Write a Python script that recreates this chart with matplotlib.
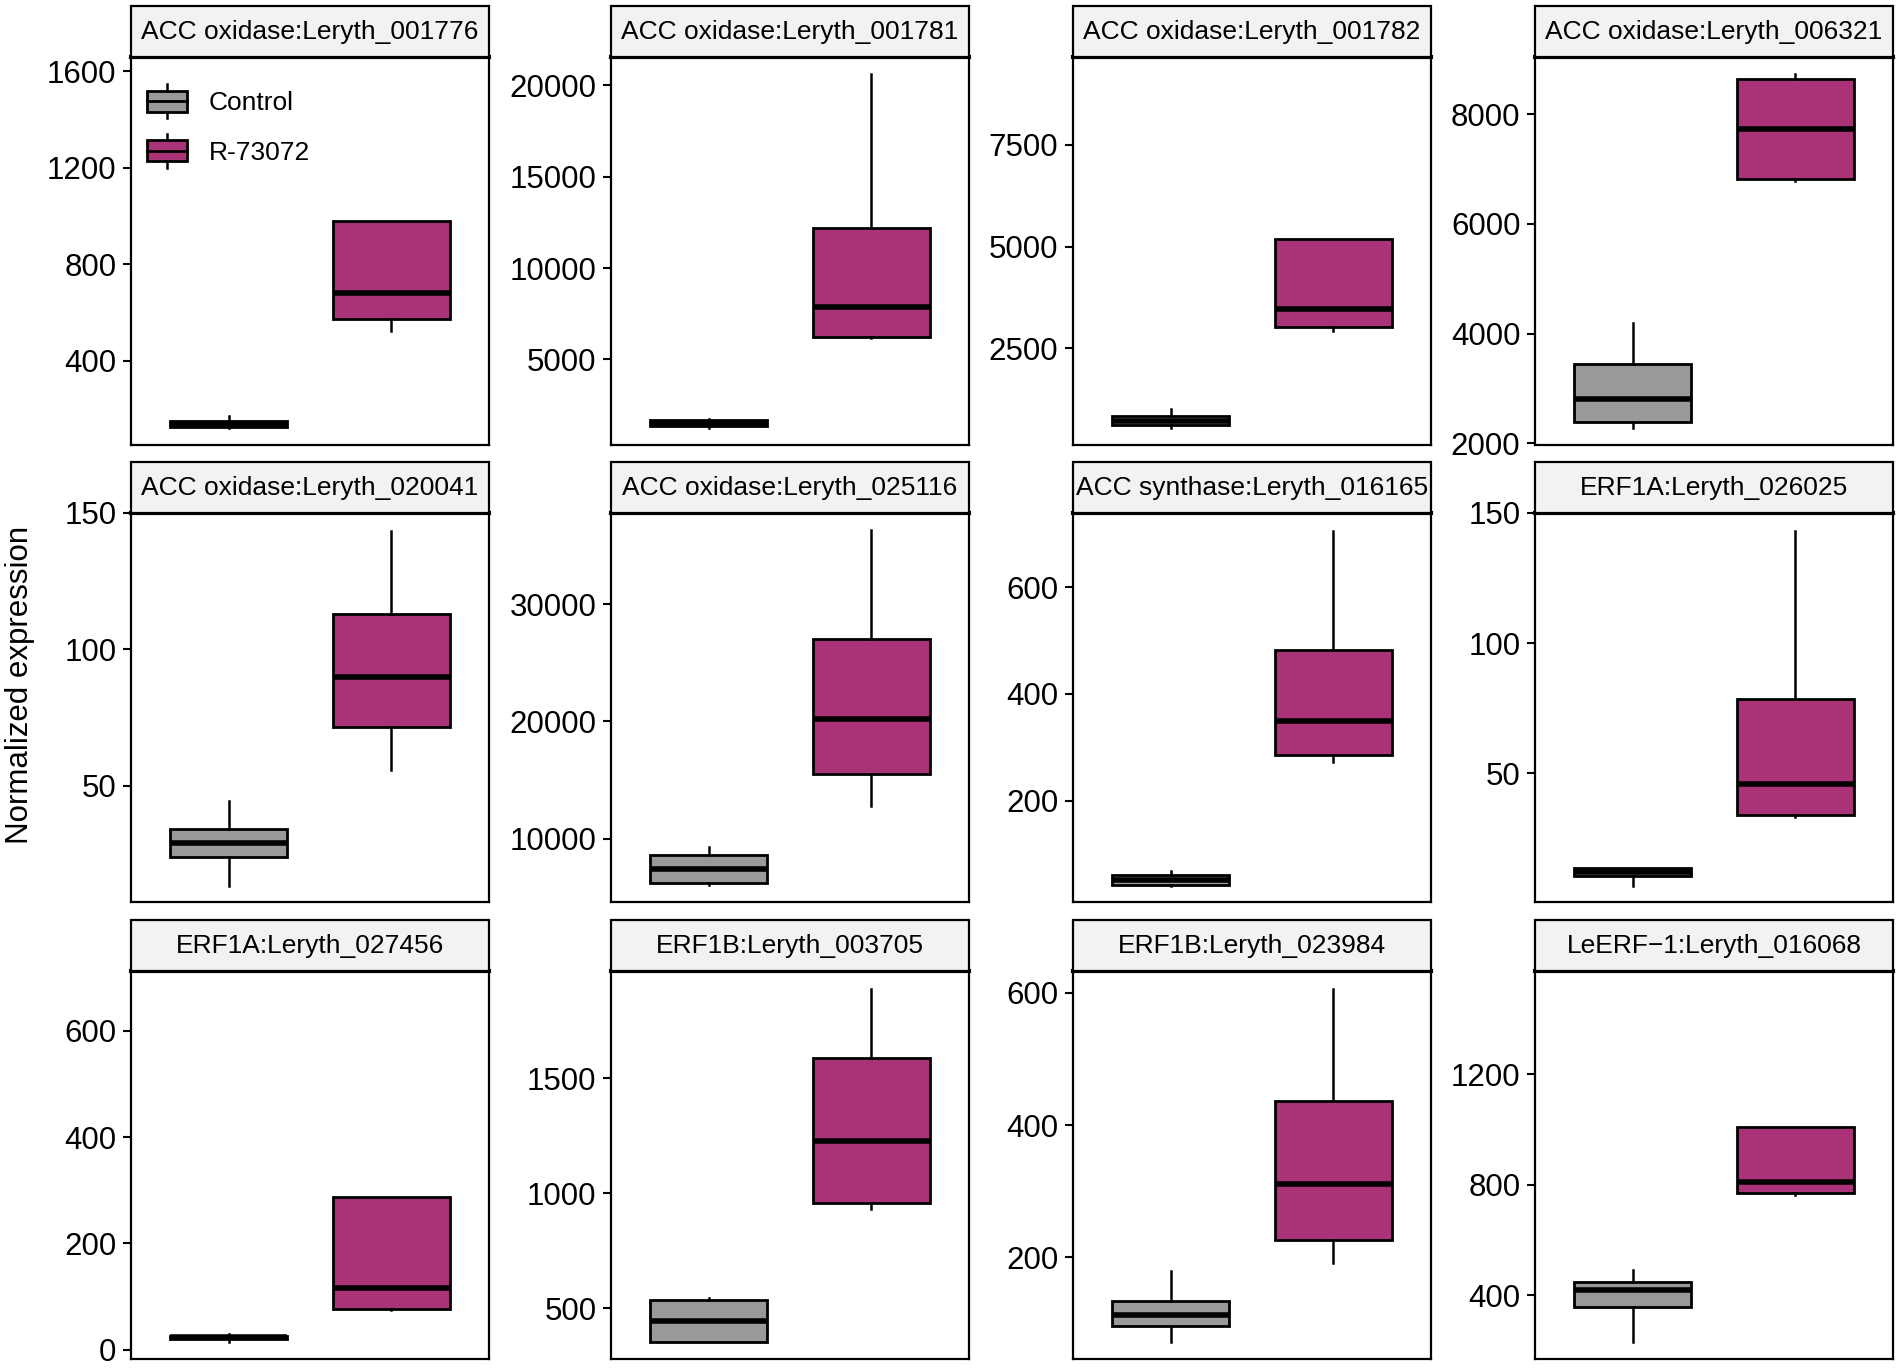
import matplotlib
matplotlib.use("Agg")
import matplotlib.pyplot as plt
from matplotlib.patches import Rectangle, Patch
from matplotlib.lines import Line2D
from matplotlib.legend_handler import HandlerBase

plt.rcParams["font.family"] = ["Liberation Sans", "DejaVu Sans"]

# facet titles
genes = ["ACC oxidase:Leryth_001776", "ACC oxidase:Leryth_001781",
         "ACC oxidase:Leryth_001782", "ACC oxidase:Leryth_006321",
         "ACC oxidase:Leryth_020041", "ACC oxidase:Leryth_025116",
         "ACC synthase:Leryth_016165", "ERF1A:Leryth_026025",
         "ERF1A:Leryth_027456", "ERF1B:Leryth_003705",
         "ERF1B:Leryth_023984", "LeERF\u22121:Leryth_016068"]

groups = ["Control", "R-73072"]

# box stats: [whisker low, q1, median, q3, whisker high]
control = [[120, 125, 140, 152, 170],
           [1260, 1380, 1540, 1700, 1720],
           [555, 613, 727, 850, 1020],
           [2285, 2395, 2816, 3441, 4194],
           [13.3, 23.9, 29.1, 34, 44.4],
           [6011, 6239, 7407, 8632, 9259],
           [41, 42, 52, 61, 68],
           [6.8, 10.7, 12.2, 13.5, 13.5],
           [13.8, 20, 23.2, 26.3, 29.5],
           [351, 351, 442, 536, 545],
           [71.7, 96.9, 113, 134.6, 180],
           [232, 358, 418, 450, 492]]

treated = [[524, 575, 682, 979, 979],
           [6150, 6240, 7844, 12183, 20605],
           [2933, 3031, 3456, 5188, 5188],
           [6780, 6816, 7733, 8644, 8729],
           [55.8, 71.6, 90, 112.9, 143.5],
           [12792, 15499, 20199, 27009, 36325],
           [272, 286, 350, 482, 706],
           [33.3, 34, 45.8, 78.6, 143.2],
           [75, 76.5, 116, 286.5, 286.5],
           [929, 958, 1226, 1587, 1890],
           [191, 226.7, 310.5, 436.7, 606],
           [763, 769, 811, 1009, 1009]]

ylims = [(51, 1659), (315, 21549), (131, 9649), (1970, 9045),
         (7.4, 150), (4587, 37778), (10.6, 738.8), (0.6, 150),
         (-17.6, 712.9), (278, 1967), (46.5, 632.7), (170, 1573)]

yticks = [[400, 800, 1200, 1600], [5000, 10000, 15000, 20000],
          [2500, 5000, 7500], [2000, 4000, 6000, 8000],
          [50, 100, 150], [10000, 20000, 30000],
          [200, 400, 600], [50, 100, 150],
          [0, 200, 400, 600], [500, 1000, 1500],
          [200, 400, 600], [400, 800, 1200]]

colors = ["#999999", "#AA3377"]

W, H = 1902, 1369
fig = plt.figure(figsize=(W / 100, H / 100), dpi=100)

col_left = [131, 611, 1073, 1535]
panel_w = 358
row_top = [57, 513, 971]
row_bot = [445, 902, 1359]
strip_h = 51


class BoxHandler(HandlerBase):
    def create_artists(self, legend, orig_handle, xdescent, ydescent,
                       width, height, fontsize, trans):
        fc = orig_handle.get_facecolor()
        x0, y0 = -xdescent, -ydescent
        cx = x0 + width / 2
        bh = height * 0.62
        by = y0 + (height - bh) / 2
        arts = [Line2D([cx, cx], [y0, by], color="black", lw=1.8),
                Line2D([cx, cx], [by + bh, y0 + height], color="black", lw=1.8),
                Rectangle((x0, by), width, bh, facecolor=fc,
                          edgecolor="black", lw=2.0),
                Line2D([x0, x0 + width], [by + bh / 2, by + bh / 2],
                       color="black", lw=2.0)]
        for a in arts:
            a.set_transform(trans)
        return arts


for i in range(12):
    r, c = divmod(i, 4)
    l = col_left[c]
    t, b = row_top[r], row_bot[r]
    ax = fig.add_axes([l / W, 1 - b / H, panel_w / W, (b - t) / H])

    stats = []
    for g, s in enumerate([control[i], treated[i]]):
        stats.append(dict(whislo=s[0], q1=s[1], med=s[2], q3=s[3],
                          whishi=s[4], label=groups[g]))
    bp = ax.bxp(stats, positions=[1, 2], widths=0.72, patch_artist=True,
                showfliers=False, showcaps=False,
                boxprops=dict(edgecolor="black", linewidth=2.0),
                medianprops=dict(color="black", linewidth=4.0,
                                 solid_capstyle="butt"),
                whiskerprops=dict(color="black", linewidth=1.8))
    for patch, col in zip(bp["boxes"], colors):
        patch.set_facecolor(col)

    ax.set_xlim(0.4, 2.6)
    ax.set_ylim(*ylims[i])
    ax.set_xticks([])
    ax.set_yticks(yticks[i])
    ax.tick_params(axis="y", direction="out", length=6, width=1.5,
                   labelsize=22.5, pad=4.5, colors="black")
    for sp in ax.spines.values():
        sp.set_linewidth(1.6)
        sp.set_color("black")
    ax.spines["top"].set_linewidth(3.0)

    # facet strip
    sh = strip_h / (b - t)
    ax.add_patch(Rectangle((0, 1), 1, sh, transform=ax.transAxes,
                           facecolor="#F2F2F2", edgecolor="black",
                           linewidth=1.6, clip_on=False, zorder=3))
    ax.text(0.5, 1 + sh / 2, genes[i], transform=ax.transAxes,
            ha="center", va="center", fontsize=19, zorder=4)

    if i == 0:
        handles = [Patch(facecolor=colors[0]), Patch(facecolor=colors[1])]
        ax.legend(handles, groups, loc="upper left",
                  bbox_to_anchor=(0.045, 0.93), frameon=False,
                  handler_map={Patch: BoxHandler()}, fontsize=19,
                  handlelength=1.5, handleheight=1.6, handletextpad=0.85,
                  labelspacing=0.6, borderpad=0, borderaxespad=0)

fig.text(20 / W, 0.5, "Normalized expression", rotation=90,
         ha="center", va="center", fontsize=22.5)

fig.savefig("out.png", dpi=100, facecolor="white")
